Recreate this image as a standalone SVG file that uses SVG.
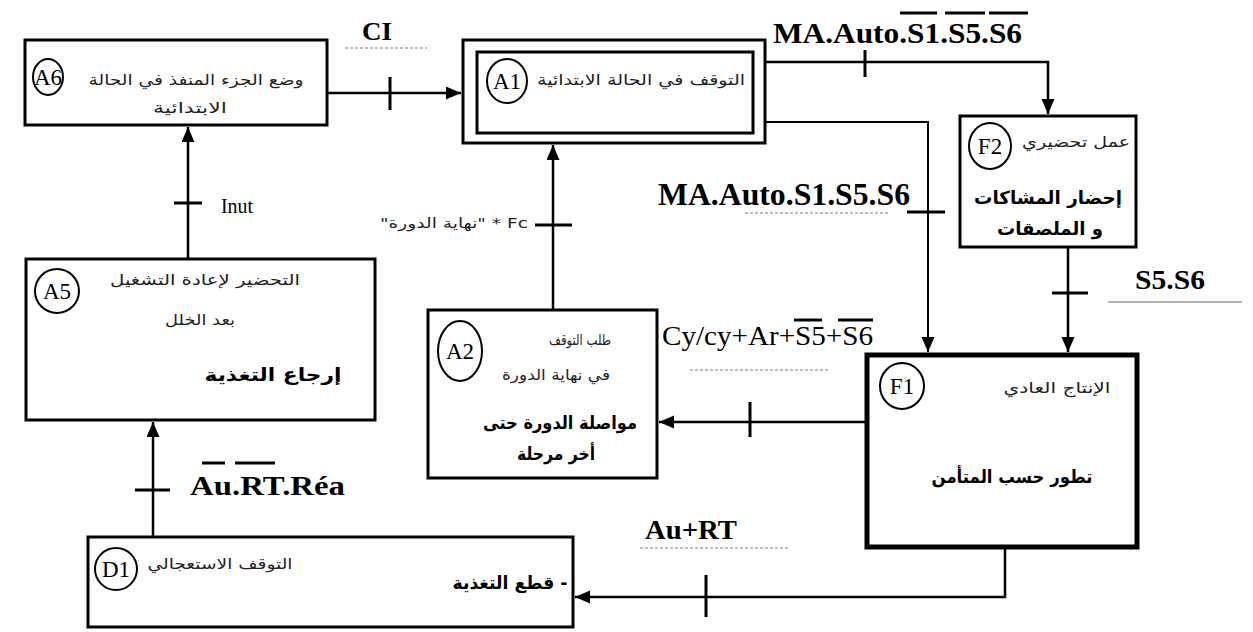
<svg xmlns="http://www.w3.org/2000/svg" width="1253" height="632" viewBox="0 0 1253 632">
<defs>
<style>
.box{fill:#fff;stroke:#000;stroke-width:3}
.thick{stroke-width:5}
.lbl{fill:none;stroke:#000;stroke-width:2}
.ctext{font-family:"Liberation Serif",serif;font-size:23px;fill:#000;text-anchor:middle}
.ar{font-family:"DejaVu Sans",sans-serif;font-size:15px;fill:#222;text-anchor:middle}
.arb{font-family:"DejaVu Sans",sans-serif;font-size:18px;font-weight:bold;fill:#000;text-anchor:middle}
.cond{font-family:"Liberation Serif",serif;font-weight:bold;fill:#000}
.condr{font-family:"Liberation Serif",serif;fill:#000}
.con{fill:none;stroke:#000;stroke-width:2.5}
.thin{stroke-width:2}
.tick{fill:none;stroke:#000;stroke-width:3}
.ovl{stroke:#000;stroke-width:3}
.dot{stroke:#aaa;stroke-width:1.5;stroke-dasharray:3 2}
</style>
<marker id="arr" markerUnits="userSpaceOnUse" markerWidth="16" markerHeight="14" refX="15" refY="6.5" orient="auto">
<path d="M0,0 L15,6.5 L0,13 z" fill="#000"/>
</marker>
</defs>
<rect width="1253" height="632" fill="#fff"/>

<g id="connectors">
<path class="con" d="M327,93 H461" marker-end="url(#arr)"/>
<path class="tick" d="M390,77 V110"/>
<path class="con" d="M188,258 V127" marker-end="url(#arr)"/>
<path class="tick" d="M174,203 H202"/>
<path class="con" d="M765,62 H1048 V114" marker-end="url(#arr)"/>
<path class="tick" d="M865,50 V77"/>
<path class="con thin" d="M765,122 H928 V352" marker-end="url(#arr)"/>
<path class="tick" d="M907,212 H945"/>
<path class="con" d="M1068,247 V352" marker-end="url(#arr)"/>
<path class="tick" d="M1052,293 H1088"/>
<path class="con" d="M867,422 H659" marker-end="url(#arr)"/>
<path class="tick" d="M750,402 V437"/>
<path class="con" d="M553,310 V145" marker-end="url(#arr)"/>
<path class="tick" d="M535,225 H572"/>
<path class="con" d="M1005,549 V597 H575" marker-end="url(#arr)"/>
<path class="tick" d="M706,575 V617"/>
<path class="con" d="M153,537 V422" marker-end="url(#arr)"/>
<path class="tick" d="M135,490 H170"/>
</g>

<g id="labels">
<text class="cond" x="362" y="40" font-size="26" textLength="30" lengthAdjust="spacingAndGlyphs">CI</text>
<line class="dot" x1="345" y1="48" x2="427" y2="48"/>
<text class="cond" x="773" y="43" font-size="30" textLength="249" lengthAdjust="spacingAndGlyphs">MA.Auto.S1.S5.S6</text>
<line class="ovl" x1="900" y1="13" x2="937" y2="13"/>
<line class="ovl" x1="945" y1="13" x2="985" y2="13"/>
<line class="ovl" x1="989" y1="13" x2="1028" y2="13"/>
<text class="cond" x="658" y="205" font-size="31" textLength="252" lengthAdjust="spacingAndGlyphs">MA.Auto.S1.S5.S6</text>
<line class="dot" x1="745" y1="213" x2="890" y2="213"/>
<text class="cond" x="1135" y="289" font-size="27" textLength="70" lengthAdjust="spacingAndGlyphs">S5.S6</text>
<line x1="1108" y1="302" x2="1242" y2="302" stroke="#999" stroke-width="1.5"/>
<text class="condr" x="662" y="345" font-size="27" textLength="211" lengthAdjust="spacingAndGlyphs">Cy/cy+Ar+S5+S6</text>
<line class="ovl" x1="794" y1="320" x2="822" y2="320"/>
<line class="ovl" x1="838" y1="320" x2="873" y2="320"/>
<line class="dot" x1="690" y1="370" x2="830" y2="370"/>
<text class="cond" x="645" y="539" font-size="27" textLength="92" lengthAdjust="spacingAndGlyphs">Au+RT</text>
<line class="dot" x1="640" y1="548" x2="790" y2="548"/>
<text class="cond" x="190" y="495" font-size="28" textLength="155" lengthAdjust="spacingAndGlyphs">Au.RT.Réa</text>
<line class="ovl" x1="202" y1="463" x2="225" y2="463"/>
<line class="ovl" x1="235" y1="463" x2="275" y2="463"/>
<text class="condr" x="221" y="213" font-size="21" textLength="32" lengthAdjust="spacingAndGlyphs">Inut</text>
<text x="454" y="228" font-family="DejaVu Sans, sans-serif" font-size="14" fill="#222" text-anchor="middle" textLength="148" lengthAdjust="spacingAndGlyphs">"نهاية الدورة" * Fc</text>
</g>

<g id="A6">
<rect class="box" x="25" y="40" width="302" height="85"/>
<ellipse class="lbl" cx="48" cy="77" rx="15" ry="18"/>
<text class="ctext" x="48" y="85">A6</text>
<text class="ar" x="196" y="85" textLength="215" lengthAdjust="spacingAndGlyphs">وضع الجزء المنفذ في الحالة</text>
<text class="ar" x="190" y="113" textLength="74" lengthAdjust="spacingAndGlyphs">الابتدائية</text>
</g>

<g id="A1">
<rect class="box" x="463" y="40" width="302" height="103" stroke-width="3.5"/>
<rect class="box" x="477" y="52" width="276" height="81"/>
<ellipse class="lbl" cx="507" cy="81" rx="20" ry="22"/>
<text class="ctext" x="507" y="89">A1</text>
<text class="ar" x="641" y="85" textLength="208" lengthAdjust="spacingAndGlyphs">التوقف في الحالة الابتدائية</text>
</g>

<g id="F2">
<rect class="box" x="960" y="116" width="176" height="131"/>
<ellipse class="lbl" cx="990" cy="146" rx="21" ry="23"/>
<text class="ctext" x="990" y="154">F2</text>
<text class="ar" x="1076" y="147" textLength="108" lengthAdjust="spacingAndGlyphs">عمل تحضيري</text>
<text class="arb" x="1048" y="204" textLength="148" lengthAdjust="spacingAndGlyphs">إحضار المشاكات</text>
<text class="arb" x="1050" y="235" textLength="106" lengthAdjust="spacingAndGlyphs">و الملصقات</text>
</g>

<g id="F1">
<rect class="box thick" x="867" y="355" width="270" height="192"/>
<ellipse class="lbl" cx="902" cy="386" rx="22" ry="23"/>
<text class="ctext" x="902" y="394">F1</text>
<text class="ar" x="1057" y="393" textLength="107" lengthAdjust="spacingAndGlyphs">الإنتاج العادي</text>
<text class="arb" x="1012" y="483" textLength="161" lengthAdjust="spacingAndGlyphs">تطور حسب المتأمن</text>
</g>

<g id="A2">
<rect class="box" x="428" y="310" width="229" height="168"/>
<ellipse class="lbl" cx="460" cy="351" rx="22" ry="30"/>
<text class="ctext" x="460" y="359">A2</text>
<text class="ar" x="580" y="345" textLength="62" lengthAdjust="spacingAndGlyphs">طلب التوقف</text>
<text class="ar" x="556" y="380" textLength="108" lengthAdjust="spacingAndGlyphs">في نهاية الدورة</text>
<text class="arb" x="560" y="429" textLength="154" lengthAdjust="spacingAndGlyphs">مواصلة الدورة حتى</text>
<text class="arb" x="556" y="460" textLength="78" lengthAdjust="spacingAndGlyphs">أخر مرحلة</text>
</g>

<g id="A5">
<rect class="box" x="26" y="259" width="349" height="161"/>
<ellipse class="lbl" cx="57" cy="291" rx="22" ry="22"/>
<text class="ctext" x="57" y="299">A5</text>
<text class="ar" x="205" y="285" textLength="190" lengthAdjust="spacingAndGlyphs">التحضير لإعادة التشغيل</text>
<text class="ar" x="200" y="325" textLength="70" lengthAdjust="spacingAndGlyphs">بعد الخلل</text>
<text class="arb" x="273" y="381" font-size="22" textLength="137" lengthAdjust="spacingAndGlyphs">إرجاع التغذية</text>
</g>

<g id="D1">
<rect class="box" x="88" y="537" width="485" height="90"/>
<ellipse class="lbl" cx="116" cy="569" rx="21" ry="21"/>
<text class="ctext" x="116" y="577">D1</text>
<text class="ar" x="220" y="569" textLength="145" lengthAdjust="spacingAndGlyphs">التوقف الاستعجالي</text>
<text class="arb" x="510" y="589" textLength="115" lengthAdjust="spacingAndGlyphs">قطع التغذية -</text>
</g>
</svg>
